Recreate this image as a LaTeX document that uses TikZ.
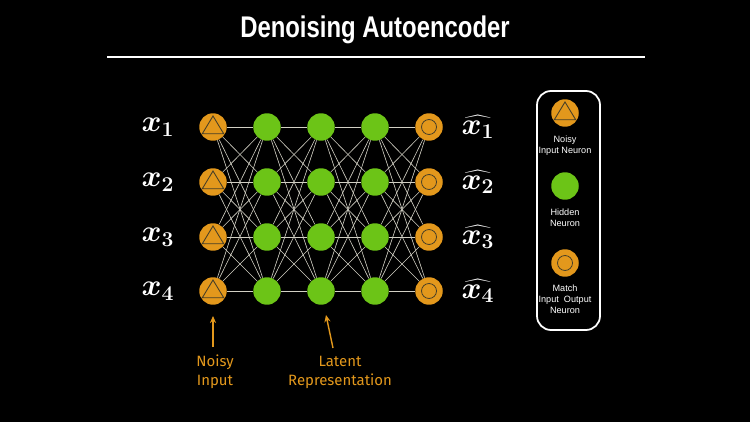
\documentclass[tikz,border=0pt]{standalone}
\usepackage{fontspec}
\setsansfont{Liberation Sans}
\newfontfamily\titlefont{Liberation Sans}
\newfontfamily\notefont{Fira Sans}
\usetikzlibrary{arrows.meta}
\definecolor{neurongreen}{RGB}{108,196,23}
\definecolor{neuronorange}{RGB}{227,152,28}
\definecolor{wiregray}{RGB}{210,208,196}
\definecolor{markdark}{RGB}{70,62,40}

\begin{document}
\begin{tikzpicture}
[x=0.02cm,y=-0.02cm,%
  every node/.style={inner sep=0pt},%
  neuron/.style={shape=circle,minimum size=0.55cm},%
  hidden/.style={neuron,fill=neurongreen},%
  noisy/.style={neuron,fill=neuronorange,path picture={%
    \draw[markdark,line width=0.5pt]
      ([yshift=0.22cm]path picture bounding box.center)
      -- ++(-0.214cm,-0.355cm) -- ++(0.428cm,0) -- cycle;}},%
  match/.style={neuron,fill=neuronorange,path picture={%
    \draw[markdark,line width=0.45pt]
      (path picture bounding box.center) circle (0.15cm);}},%
  wire/.style={draw=wiregray,line width=0.35pt},%
  xlabel/.style={text=white,font=\boldmath\fontsize{17}{20}\selectfont},%
  keytext/.style={text=white,align=center,font=\sffamily\fontsize{5.2}{6.2}\selectfont},%
  note/.style={text=neuronorange,align=center,font=\notefont\fontsize{8.5}{10.8}\selectfont},%
  pointer/.style={neuronorange,line width=0.8pt,-{Stealth[length=4pt,width=3.5pt]}}]
\useasboundingbox (0,0) rectangle (750,422);
\fill[black] (0,0) rectangle (750,422);

% title
\node[text=white,font=\titlefont\bfseries\fontsize{17}{20}\selectfont] (title) at (375,30)
  {\scalebox{0.8}[1]{Denoising Autoencoder}};
\draw[white,line width=1.2pt] (107,57) -- (645,57);

% layers
\foreach \r/\y in {1/127,2/182,3/237,4/291} {
  \node[noisy] (n-1-\r) at (213,\y) {};
  \node[hidden] (n-2-\r) at (267,\y) {};
  \node[hidden] (n-3-\r) at (321,\y) {};
  \node[hidden] (n-4-\r) at (375,\y) {};
  \node[match] (n-5-\r) at (429,\y) {};
  \node[xlabel] (x-\r) at (158,\y) {$x_{\r}$};
  \node[xlabel] (xhat-\r) at (478,\y) {$\widehat{x_{\r}}$};
}

% connections
\foreach \c [evaluate=\c as \d using int(\c+1)] in {1,...,4}
  \foreach \r in {1,...,4}
    \foreach \s in {1,...,4}
      \draw[wire] (n-\c-\r) -- (n-\d-\s);

% legend
\draw[white,line width=1pt,rounded corners=8pt] (537,91) rectangle (600,330);
\node[noisy] (key-noisy) at (565,113) {};
\node[keytext] (key-noisy-text) at (565,146) {Noisy\\Input Neuron};
\node[hidden] (key-hidden) at (565,186) {};
\node[keytext] (key-hidden-text) at (565,218) {Hidden\\Neuron};
\node[match] (key-match) at (565,263) {};
\node[keytext] (key-match-text) at (565,299) {Match\\Input\ \ Output\\Neuron};

% notes
\node[note] (noisy-note) at (215,372) {Noisy\\Input};
\node[note] (latent-note) at (340,372) {Latent\\Representation};
\coordinate (noisy-tail) at (213,347);
\coordinate (noisy-head) at (213,316);
\coordinate (latent-tail) at (333,348);
\coordinate (latent-head) at (326,315);
\draw[pointer] (noisy-tail) -- (noisy-head);
\draw[pointer] (latent-tail) -- (latent-head);
\end{tikzpicture}
\end{document}
